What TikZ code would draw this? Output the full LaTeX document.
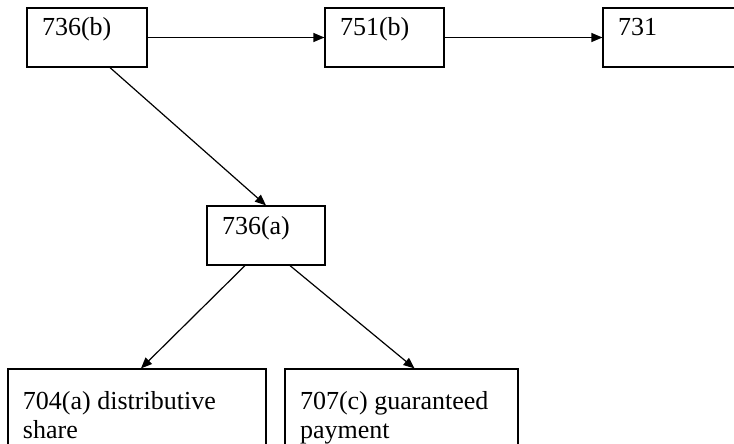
\documentclass[tikz,border=0pt]{standalone}
\usepackage{fontspec}
\setmainfont{Liberation Serif}
\usepackage{tikz}
\usetikzlibrary{arrows.meta,positioning}

\begin{document}
\begin{tikzpicture}[x=1pt,y=-1pt,
    box/.style={draw, rectangle, line width=1.2pt, align=flush left, inner xsep=15pt, inner ysep=0pt,
        font=\fontsize{26}{29}\selectfont},
    onebox/.style={box, text height=28pt, text depth=31pt},
    twobox/.style={box, text height=40pt, text depth=51pt},
    arr/.style={-{Triangle[length=11pt,width=9pt]}, line width=1.2pt}]
    \useasboundingbox (0,0) rectangle (734,444);
    \clip (0,0) rectangle (734,444);

    % top row
    \node[onebox, text width=90pt] (b736b) at (87,37.5) {736(b)};
    \node[onebox, text width=89pt] (b751b) at (384.5,37.5) {751(b)};
    \node[onebox, text width=110pt] (b731) at (673,37.5) {731};

    % middle
    \node[onebox, text width=88pt] (b736a) at (266,235.5) {736(a)};

    % bottom row
    \node[twobox, text width=228pt] (b704a) at (137,414.5) {704(a) distributive\\share};
    \node[twobox, text width=203pt] (b707c) at (401.5,414.5) {707(c) guaranteed\\payment};

    \draw[arr] (b736b) -- (b751b);
    \draw[arr] (b751b) -- (b731);
    \draw[arr] ([xshift=23pt]b736b.south) -- (b736a.north);
    \draw[arr] ([xshift=-21pt]b736a.south) -- ([xshift=4pt]b704a.north);
    \draw[arr] ([xshift=24pt]b736a.south) -- ([xshift=13pt]b707c.north);
\end{tikzpicture}
\end{document}
